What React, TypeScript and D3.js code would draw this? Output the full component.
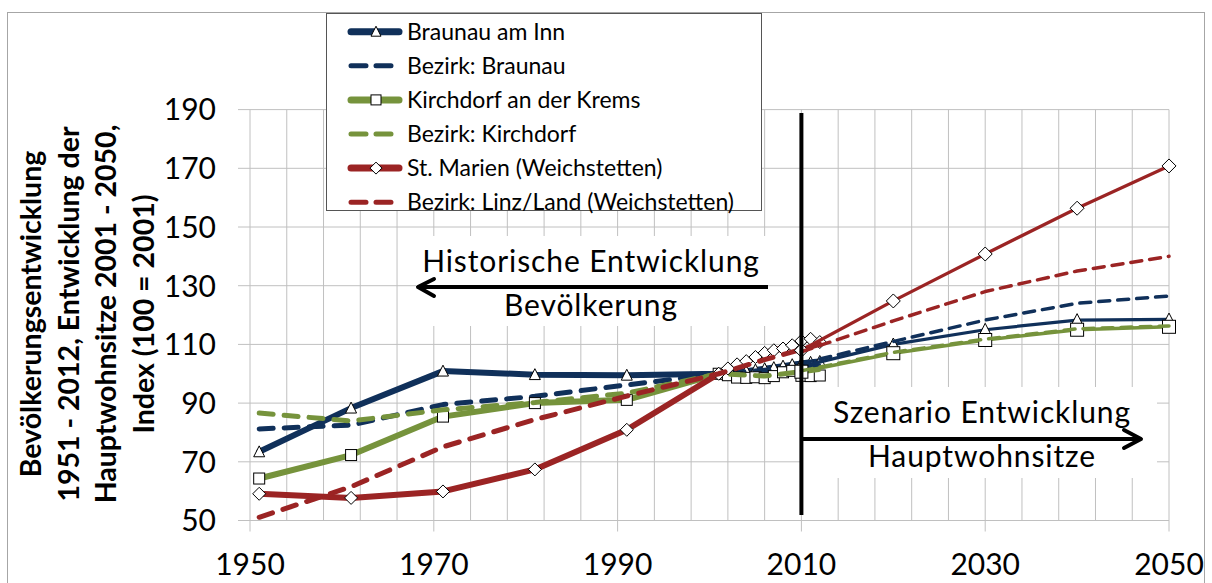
import React from 'react';
import * as d3 from 'd3';

// ---------- data ----------
const histYears = [1951, 1961, 1971, 1981, 1991, 2001, 2002, 2003, 2004, 2005, 2006, 2007, 2008, 2009, 2010, 2011, 2012];
const braunauHist = [73.4, 88.3, 100.9, 99.7, 99.5, 100, 100.3, 100.6, 100.9, 101.3, 101.7, 102.1, 102.6, 103.1, 103.5, 103.9, 104.2];
const kirchdorfHist = [64.3, 72.3, 85.4, 90, 91.1, 100, 99.5, 98.7, 98.6, 98.8, 98.5, 99.2, 100.5, 101, 99.3, 99.2, 99.4];
const marienHist = [59.1, 57.7, 59.9, 67.4, 80.9, 100, 101.8, 103.2, 104.3, 105.7, 107.1, 108, 108.6, 109.7, 111.2, 111.9, 110.8];

const bezHistYears = [1951, 1961, 1971, 1981, 1991, 2001, 2006, 2012];
const bezBraunauHist = [81.2, 82.5, 89.5, 92.3, 96.2, 100, 101.2, 102.8];
const bezKirchdorfHist = [86.6, 83.9, 87.7, 90.2, 93.4, 100, 99.2, 101.5];
const linzLandHist = [51.1, 61.5, 75.1, 84.4, 92.4, 100, 104.8, 110];

const projYears = [2010, 2020, 2030, 2040, 2050];
const braunauProj = [102.5, 110, 115, 118.3, 118.5];
const bezBraunauProj = [103.5, 111, 118.3, 124, 126.5];
const kirchdorfProj = [100.7, 107, 111.5, 115, 116];
const bezKirchdorfProj = [101, 107.3, 111.8, 115.3, 116.3];
const marienProj = [108, 124.8, 140.8, 156.4, 170.8];
const linzLandProj = [107.5, 118, 128, 135, 140];

const legendLabels = [
  'Braunau am Inn',
  'Bezirk: Braunau',
  'Kirchdorf an der Krems',
  'Bezirk: Kirchdorf',
  'St. Marien (Weichstetten)',
  'Bezirk: Linz/Land (Weichstetten)',
];
const yTicks = [50, 70, 90, 110, 130, 150, 170, 190];
const xTicks = [1950, 1970, 1990, 2010, 2030, 2050];
const yTitle = [
  'Bevölkerungsentwicklung',
  '1951 - 2012, Entwicklung der',
  'Hauptwohnsitze 2001 - 2050,',
  'Index (100 = 2001)',
];

const NAVY = '#10305A';
const GREEN = '#76933C';
const RED = '#9B2424';
const GRID = '#C0C0C0';
const FONT = 'Lato, "Open Sans", sans-serif';

type Marker = 'triangle' | 'square' | 'diamond' | null;

function markerShape(kind: Marker, cx: number, cy: number, s: number, key: string) {
  if (kind === 'triangle') {
    const h = s * 0.9;
    return (
      <path key={key} d={`M${cx},${cy - h / 2 - 1}L${cx + s / 2},${cy + h / 2}L${cx - s / 2},${cy + h / 2}Z`}
        fill="#fff" stroke="#000" strokeWidth={1} />
    );
  }
  if (kind === 'square') {
    return <rect key={key} x={cx - s / 2} y={cy - s / 2} width={s} height={s} fill="#fff" stroke="#000" strokeWidth={1} />;
  }
  if (kind === 'diamond') {
    const r = s / 2 + 1;
    return (
      <path key={key} d={`M${cx},${cy - r}L${cx + r},${cy}L${cx},${cy + r}L${cx - r},${cy}Z`}
        fill="#fff" stroke="#000" strokeWidth={1} />
    );
  }
  return null;
}

export default function App() {
  const W = 1212;
  const H = 583;
  const x = d3.scaleLinear().domain([1950, 2050]).range([250, 1169]);
  const y = d3.scaleLinear().domain([50, 190]).range([520.5, 109.6]);
  const line = d3.line<[number, number]>().x((d) => x(d[0])).y((d) => y(d[1]));
  const pts = (xs: number[], ys: number[]) => xs.map((v, i) => [v, ys[i]] as [number, number]);

  const minorYears = d3.range(1950, 2051, 4);

  type S = { xs: number[]; ys: number[]; color: string; width: number; dash?: string; marker: Marker; ms: number };
  const series: S[] = [
    { xs: histYears, ys: braunauHist, color: NAVY, width: 6, marker: 'triangle', ms: 11 },
    { xs: bezHistYears, ys: bezBraunauHist, color: NAVY, width: 5, dash: '14 11', marker: null, ms: 0 },
    { xs: histYears, ys: kirchdorfHist, color: GREEN, width: 6, marker: 'square', ms: 11 },
    { xs: bezHistYears, ys: bezKirchdorfHist, color: GREEN, width: 5, dash: '14 11', marker: null, ms: 0 },
    { xs: histYears, ys: marienHist, color: RED, width: 6, marker: 'diamond', ms: 11 },
    { xs: bezHistYears, ys: linzLandHist, color: RED, width: 5, dash: '14 11', marker: null, ms: 0 },
    { xs: projYears, ys: braunauProj, color: NAVY, width: 3.2, marker: 'triangle', ms: 12 },
    { xs: projYears, ys: bezBraunauProj, color: NAVY, width: 3.5, dash: '11 8', marker: null, ms: 0 },
    { xs: projYears, ys: kirchdorfProj, color: GREEN, width: 3.5, marker: 'square', ms: 13 },
    { xs: projYears, ys: bezKirchdorfProj, color: GREEN, width: 3.5, dash: '11 8', marker: null, ms: 0 },
    { xs: projYears, ys: marienProj, color: RED, width: 3.2, marker: 'diamond', ms: 12 },
    { xs: projYears, ys: linzLandProj, color: RED, width: 3.5, dash: '11 8', marker: null, ms: 0 },
  ];

  const legendItems: { color: string; dash: boolean; marker: Marker }[] = [
    { color: NAVY, dash: false, marker: 'triangle' },
    { color: NAVY, dash: true, marker: null },
    { color: GREEN, dash: false, marker: 'square' },
    { color: GREEN, dash: true, marker: null },
    { color: RED, dash: false, marker: 'diamond' },
    { color: RED, dash: true, marker: null },
  ];

  const x2010 = x(2010);
  const annoStyle = { fontSize: 30, letterSpacing: 0.9 };

  return (
    <svg width={W} height={H} style={{ position: 'absolute', left: 0, top: 0, background: '#fff' }}
      fontFamily={FONT}>
      <rect x={0} y={0} width={W} height={H} fill="#fff" />
      {/* chart border */}
      <rect x={7.5} y={12.5} width={1197} height={640} fill="none" stroke="#A6A6A6" strokeWidth={1} />

      {/* gridlines */}
      {minorYears.map((yr) => (
        <line key={'vg' + yr} x1={x(yr)} x2={x(yr)} y1={y(190)} y2={xTicks.includes(yr) ? y(50) + 11 : y(50)}
          stroke={GRID} strokeWidth={1} />
      ))}
      {yTicks.map((v) => (
        <line key={'hg' + v} x1={x(1950) - 12} x2={x(2050)} y1={y(v)} y2={y(v)} stroke={GRID} strokeWidth={1} />
      ))}

      {/* tick labels */}
      {yTicks.map((v) => (
        <text key={'yt' + v} x={216} y={y(v) + 10.8} textAnchor="end" fontSize={30} fill="#000">{v}</text>
      ))}
      {xTicks.map((v) => (
        <text key={'xt' + v} x={x(v)} y={575} textAnchor="middle" fontSize={30} fill="#000">{v}</text>
      ))}

      {/* y title */}
      <g transform="translate(0,314)">
        {yTitle.map((t, i) => (
          <text key={'ytl' + i} transform={`translate(${41 + i * 37.5},0) rotate(-90)`} textAnchor="middle"
            fontSize={28.5} fontWeight="bold" fill="#000">{t}</text>
        ))}
      </g>

      {/* series */}
      {series.map((s, i) => (
        <g key={'s' + i}>
          <path d={line(pts(s.xs, s.ys)) || ''} fill="none" stroke={s.color} strokeWidth={s.width}
            strokeDasharray={s.dash} strokeLinecap="round" strokeLinejoin="round" />
          {s.marker && s.xs.map((yr, j) => markerShape(s.marker, x(yr), y(s.ys[j]), s.ms, `m${i}-${j}`))}
        </g>
      ))}

      {/* annotation: historic */}
      <rect x={416} y={236} width={351} height={90} fill="#fff" />
      <text x={591} y={272} textAnchor="middle" style={annoStyle} fill="#000">Historische Entwicklung</text>
      <text x={591} y={316} textAnchor="middle" style={annoStyle} fill="#000">Bevölkerung</text>
      <line x1={768} x2={418} y1={287} y2={287} stroke="#000" strokeWidth={4} />
      <path d="M434,279 L418,287 L434,296" fill="none" stroke="#000" strokeWidth={4} strokeLinecap="round" strokeLinejoin="round" />

      {/* annotation: scenario */}
      <rect x={803} y={387} width={354} height={91} fill="#fff" />
      <text x={982} y={423} textAnchor="middle" style={annoStyle} fill="#000">Szenario Entwicklung</text>
      <text x={982} y={467} textAnchor="middle" style={annoStyle} fill="#000">Hauptwohnsitze</text>
      <line x1={x2010} x2={1140} y1={439} y2={439} stroke="#000" strokeWidth={4} />
      <path d="M1124,430 L1141,439 L1124,448" fill="none" stroke="#000" strokeWidth={4} strokeLinecap="round" strokeLinejoin="round" />

      {/* vertical separator */}
      <line x1={x2010} x2={x2010} y1={113} y2={515} stroke="#000" strokeWidth={4} />

      {/* legend */}
      <rect x={326.5} y={13.5} width={435} height={197} fill="#fff" stroke="#555" strokeWidth={1} />
      {legendItems.map((it, i) => {
        const cy = 31.7 + i * 34.1;
        return (
          <g key={'lg' + i}>
            {it.dash ? (
              <line x1={351} x2={392} y1={cy} y2={cy} stroke={it.color} strokeWidth={5} strokeLinecap="round"
                strokeDasharray="15 10" />
            ) : (
              <line x1={351} x2={399} y1={cy} y2={cy} stroke={it.color} strokeWidth={7} strokeLinecap="round" />
            )}
            {markerShape(it.marker, 376, cy, 10, 'lm' + i)}
            <text x={407} y={cy + 8} fontSize={23} fill="#000">{legendLabels[i]}</text>
          </g>
        );
      })}
    </svg>
  );
}
